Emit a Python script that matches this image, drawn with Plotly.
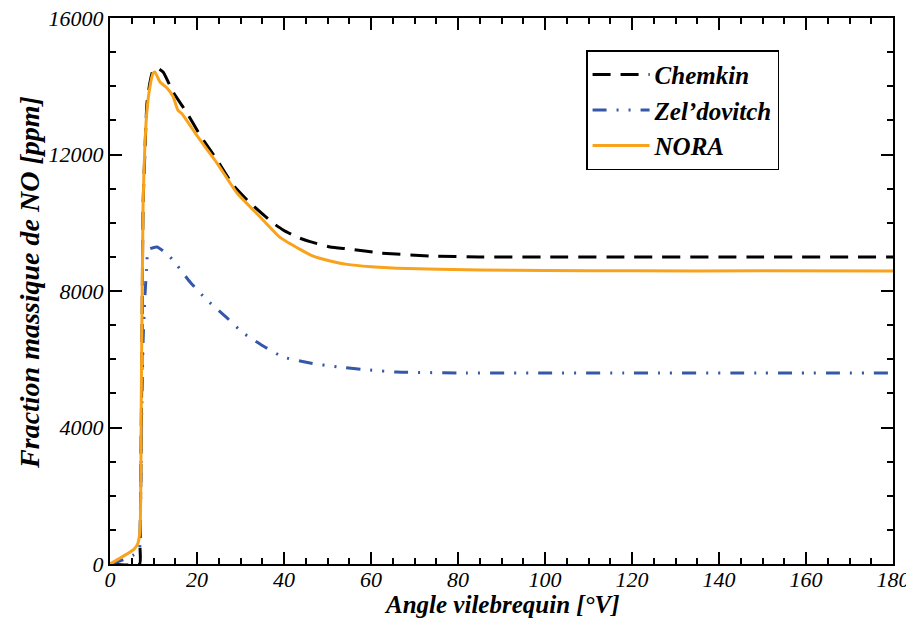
import plotly.graph_objects as go

# Chemkin
chem_x = [0, 6.8, 6.9, 7.3, 7.6, 8.0, 8.5, 9.2, 9.9, 10.7, 12.2, 14.5, 17.7, 20.7, 24.6, 28.3,
          32.2, 37.5, 39.8, 43, 46, 50.6, 55, 62, 73.6, 85, 100, 120, 150, 180]
chem_y = [0, 0, 500, 5500, 10500, 12000, 13500, 14125, 14475, 14540, 14420, 13830, 13215, 12570,
          11840, 11105, 10580, 9990, 9790, 9580, 9446, 9290, 9230, 9115, 9025, 9000, 8995, 8995,
          8995, 8995]

# Zel'dovitch
zel_x = [0, 2, 4, 5.3, 6.7, 7.0, 7.3, 7.6, 8.0, 8.5, 8.7, 10.8, 13.8, 18.4, 22.3, 26.9, 30.6,
         35.6, 39.8, 46, 52.2, 59.8, 66, 80, 100, 120, 150, 180]
zel_y = [0, 80, 170, 260, 400, 1500, 4500, 6500, 7800, 8820, 9200, 9290, 9000, 8265, 7735, 7210,
         6770, 6360, 6065, 5890, 5775, 5685, 5625, 5600, 5600, 5600, 5600, 5600]

# NORA
nora_x = [0, 2, 4, 5.5, 6.4, 6.9, 7.2, 7.6, 8.0, 8.5, 9.2, 9.9, 10.3, 11.5, 13.1, 14.5, 15.6,
          16.5, 19.1, 20, 24.6, 29.2, 34.5, 39, 43.7, 46.7, 50.6, 54.5, 60, 66, 85, 100, 120,
          150, 180]
nora_y = [0, 150, 300, 430, 600, 1000, 5000, 10500, 12200, 13300, 14000, 14380, 14420, 14125,
          13950, 13700, 13300, 13200, 12720, 12550, 11750, 10870, 10170, 9580, 9220, 9020, 8880,
          8780, 8713, 8670, 8615, 8600, 8590, 8590, 8586]

FONT = "Times New Roman, Liberation Serif, serif"
TITLE_FONT = dict(family=FONT, size=26, style="italic", weight="bold", color="black")

fig = go.Figure()
fig.add_trace(go.Scatter(x=chem_x, y=chem_y, mode="lines", name="Chemkin",
                         line=dict(color="black", width=3, dash="18px,10px",
                                   shape="spline", smoothing=0.5)))
fig.add_trace(go.Scatter(x=zel_x, y=zel_y, mode="lines", name="Zel\u2019dovitch",
                         line=dict(color="#3557a8", width=3,
                                   dash="14px,10px,2px,10px,2px,10px",
                                   shape="spline", smoothing=0.5)))
fig.add_trace(go.Scatter(x=nora_x, y=nora_y, mode="lines", name="NORA",
                         line=dict(color="#f9a21b", width=3, shape="spline", smoothing=0.5)))

axis_common = dict(showline=True, linecolor="black", linewidth=2, mirror="allticks",
                   ticks="inside", ticklen=12, tickwidth=1.5, tickcolor="black",
                   showgrid=False, zeroline=False, automargin=False,
                   ticklabeloverflow="allow",
                   tickfont=dict(family=FONT, size=22, style="italic", color="black"))

fig.update_xaxes(range=[0, 180], dtick=20, tick0=0, ticklabelstandoff=-5,
                 minor=dict(ticks="inside", ticklen=6, dtick=5, tickwidth=1.5,
                            tickcolor="black", showgrid=False),
                 **axis_common)
fig.update_yaxes(range=[0, 16000], dtick=4000, tick0=0, tickformat="d",
                 minor=dict(ticks="inside", ticklen=6, dtick=1000, tickwidth=1.5,
                            tickcolor="black", showgrid=False),
                 **axis_common)

fig.add_annotation(text="Angle vilebrequin [°V]", xref="paper", yref="paper",
                   x=0.5, y=-0.074, xanchor="center", yanchor="middle",
                   showarrow=False, font=dict(TITLE_FONT, size=25))
fig.add_annotation(text="Fraction massique de NO [ppm]", xref="paper", yref="paper",
                   x=-0.102, y=0.515, xanchor="center", yanchor="middle", textangle=-90,
                   showarrow=False, font=dict(TITLE_FONT, size=28))

fig.update_layout(
    width=914, height=620,
    margin=dict(l=102, r=29, t=10, b=64),
    plot_bgcolor="white", paper_bgcolor="white",
    showlegend=True,
    legend=dict(x=0.608, y=0.941, xanchor="left", yanchor="top",
                bgcolor="white", bordercolor="black", borderwidth=1.5,
                font=dict(family=FONT, size=25, style="italic", weight="bold", color="black"),
                tracegroupgap=0, itemwidth=57),
)

fig.write_html("out.html")
